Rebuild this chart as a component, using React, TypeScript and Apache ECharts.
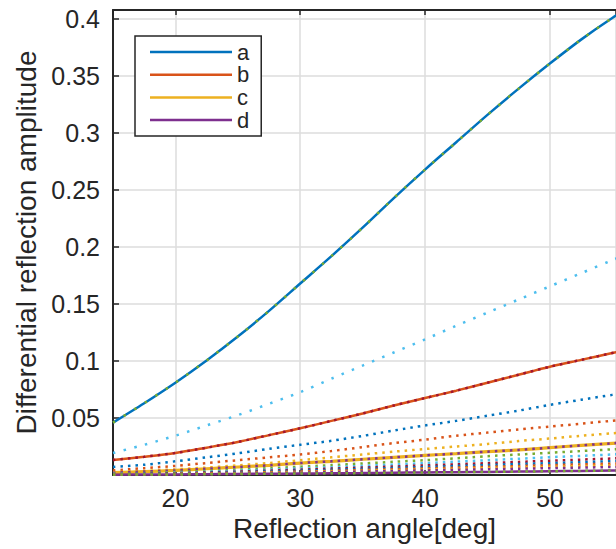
import React, { useEffect, useRef } from "react";
import * as echarts from "echarts";

// Reflection angle samples [deg]
const angles = [15, 17.5, 20, 22.5, 25, 27.5, 30, 32.5, 35, 37.5, 40, 42.5, 45, 47.5, 50, 52.5, 55, 57.5];

// Solid curves (legend entries)
const curveA = [0.046, 0.063, 0.081, 0.1005, 0.1215, 0.144, 0.168, 0.192, 0.217, 0.243, 0.268, 0.292, 0.316, 0.339, 0.361, 0.382, 0.401, 0.418];
const curveB = [0.0132, 0.016, 0.0193, 0.024, 0.029, 0.035, 0.041, 0.0475, 0.054, 0.061, 0.0675, 0.074, 0.081, 0.088, 0.095, 0.101, 0.107, 0.113];
const curveC = [0.002, 0.003, 0.004, 0.0055, 0.007, 0.0085, 0.0105, 0.012, 0.0138, 0.0155, 0.0172, 0.0188, 0.0205, 0.022, 0.024, 0.026, 0.0278, 0.0295];
const curveD = [0.0003, 0.0004, 0.0005, 0.0007, 0.0009, 0.0011, 0.0013, 0.0015, 0.0017, 0.002, 0.0022, 0.0025, 0.0027, 0.003, 0.0033, 0.0036, 0.0039, 0.0042];

// Dotted family of curves (order n = 1, 2, 3, ...)
const dotN1 = curveA;
const dotN2 = [0.0193, 0.0265, 0.0345, 0.0435, 0.0525, 0.0625, 0.0727, 0.0845, 0.096, 0.1075, 0.119, 0.131, 0.1425, 0.154, 0.1655, 0.177, 0.1885, 0.199];
const dotN3 = curveB;
const dotN4 = [0.007, 0.009, 0.012, 0.0155, 0.019, 0.023, 0.0265, 0.03, 0.0343, 0.039, 0.0435, 0.0475, 0.052, 0.0565, 0.0615, 0.066, 0.0703, 0.074];
const dotN5 = [0.004, 0.006, 0.008, 0.0105, 0.013, 0.0155, 0.018, 0.021, 0.0245, 0.028, 0.031, 0.0345, 0.0372, 0.04, 0.0425, 0.045, 0.0476, 0.05];
const dotN6 = [0.0025, 0.0035, 0.005, 0.0065, 0.0085, 0.0105, 0.013, 0.0155, 0.018, 0.0205, 0.0228, 0.025, 0.0272, 0.0298, 0.032, 0.0344, 0.0366, 0.039];
const dotN7 = curveC;
const dotN8 = [0.0012, 0.0018, 0.0026, 0.0036, 0.0047, 0.006, 0.0073, 0.0087, 0.0101, 0.0116, 0.013, 0.0147, 0.0165, 0.018, 0.0195, 0.021, 0.0225, 0.024];
const dotN9 = [0.001, 0.0015, 0.002, 0.0028, 0.0037, 0.0047, 0.0058, 0.0069, 0.008, 0.0092, 0.0104, 0.0117, 0.013, 0.0143, 0.0156, 0.0168, 0.018, 0.0192];
const dotN10 = [0.0008, 0.0012, 0.0016, 0.0022, 0.003, 0.0038, 0.0047, 0.0056, 0.0065, 0.0074, 0.0084, 0.0094, 0.0104, 0.0115, 0.0125, 0.0135, 0.0145, 0.0155];
const dotN11 = [0.0006, 0.0009, 0.0013, 0.0018, 0.0024, 0.0031, 0.0038, 0.0046, 0.0054, 0.0062, 0.007, 0.0079, 0.0087, 0.0096, 0.0104, 0.0113, 0.0121, 0.013];
const dotN12 = [0.0005, 0.0007, 0.001, 0.0014, 0.0019, 0.0025, 0.0031, 0.0037, 0.0044, 0.0051, 0.0058, 0.0065, 0.0072, 0.0079, 0.0086, 0.0093, 0.01, 0.0107];
const dotN13 = [0.0004, 0.0006, 0.0008, 0.0011, 0.0015, 0.002, 0.0025, 0.003, 0.0036, 0.0042, 0.0048, 0.0054, 0.006, 0.0066, 0.0072, 0.0078, 0.0084, 0.009];
const dotN14 = [0.0003, 0.0005, 0.0007, 0.0009, 0.0012, 0.0016, 0.002, 0.0025, 0.003, 0.0035, 0.004, 0.0045, 0.005, 0.0055, 0.006, 0.0065, 0.007, 0.0075];
const dotN15 = curveD;

const legendNames = ["a", "b", "c", "d"];
const xTitle = "Reflection angle[deg]";
const yTitle = "Differential reflection amplitude";

const FONT = "'Liberation Sans', Arial, Helvetica, sans-serif";
const INK = "#262626";
const PALETTE = ["#0072BD", "#D95319", "#EDB120", "#7E2F8E", "#77AC30", "#4DBEEE", "#A2142F"];

const pairs = (vals: number[]) => angles.map((x, i) => [x, vals[i]]);

export default function App() {
  const ref = useRef<HTMLDivElement>(null);

  useEffect(() => {
    if (!ref.current) return;
    const chart = echarts.init(ref.current, null, { renderer: "svg" });

    const solids = [curveA, curveB, curveC, curveD];
    const solidWidths = [2.5, 2.5, 3.2, 2.5];
    const dotted = [dotN1, dotN2, dotN3, dotN4, dotN5, dotN6, dotN7, dotN8, dotN9, dotN10, dotN11, dotN12, dotN13, dotN14, dotN15];

    const series: any[] = [];
    solids.forEach((vals, i) => {
      series.push({
        name: legendNames[i],
        type: "line",
        data: pairs(vals),
        smooth: 0.3,
        showSymbol: false,
        symbol: "none",
        color: PALETTE[i],
        lineStyle: { color: PALETTE[i], width: solidWidths[i] },
        z: 2,
        silent: true,
      });
    });
    dotted.forEach((vals, k) => {
      const color = PALETTE[(k + 4) % 7];
      const dash = k === 0 ? [2.5, 10] : k === 1 ? [2.5, 8.5] : [2.5, 5];
      series.push({
        name: "n" + (k + 1),
        type: "line",
        data: pairs(vals),
        smooth: 0.3,
        showSymbol: false,
        symbol: "none",
        color,
        lineStyle: { color, width: 2.5, type: dash, cap: "butt" },
        z: 3,
        silent: true,
      });
    });

    chart.setOption({
      animation: false,
      backgroundColor: "#ffffff",
      grid: { left: 113, right: 0, top: 10, bottom: 74, containLabel: false },
      legend: {
        data: legendNames,
        orient: "vertical",
        left: 135,
        top: 36,
        icon: "rect",
        itemWidth: 82,
        itemHeight: 2.5,
        itemGap: 0.7,
        padding: [5, 12, 5, 15],
        borderColor: INK,
        borderWidth: 1.5,
        borderRadius: 0,
        backgroundColor: "#ffffff",
        textStyle: { fontSize: 22, color: INK, fontFamily: FONT, lineHeight: 22 },
      },
      xAxis: [
        {
          type: "value",
          min: 15,
          max: 55.3,
          splitNumber: 4,
          position: "bottom",
          name: xTitle,
          nameLocation: "middle",
          nameGap: 37,
          nameTextStyle: { fontSize: 28, color: INK, fontFamily: FONT },
          axisLine: { show: true, lineStyle: { color: INK, width: 2 } },
          axisTick: { show: true, inside: true, length: 5, lineStyle: { color: INK, width: 1.5 } },
          axisLabel: { showMinLabel: false, showMaxLabel: false, fontSize: 25, color: INK, fontFamily: FONT, margin: 10 },
          splitLine: { show: true, lineStyle: { color: "#dcdcdc", width: 1.5 } },
        },
        {
          type: "value",
          min: 15,
          max: 55.3,
          splitNumber: 4,
          position: "top",
          axisLine: { show: true, lineStyle: { color: INK, width: 2 } },
          axisTick: { show: true, inside: true, length: 5, lineStyle: { color: INK, width: 1.5 } },
          axisLabel: { show: false },
          splitLine: { show: false },
        },
      ],
      yAxis: {
        type: "value",
        min: 0,
        max: 0.408,
        interval: 0.05,
        name: yTitle,
        nameLocation: "middle",
        nameGap: 70,
        nameTextStyle: { fontSize: 28, color: INK, fontFamily: FONT },
        axisLine: { show: true, lineStyle: { color: INK, width: 2 } },
        axisTick: { show: true, inside: true, length: 6, lineStyle: { color: INK, width: 1.5 } },
        axisLabel: {
          showMinLabel: false,
          showMaxLabel: false,
          fontSize: 25,
          color: INK,
          fontFamily: FONT,
          margin: 13,
          formatter: (v: number) => String(Math.round(v * 100) / 100),
        },
        splitLine: { show: true, lineStyle: { color: "#dcdcdc", width: 1.5 } },
      },
      series,
    });

    return () => chart.dispose();
  }, []);

  return (
    <div
      ref={ref}
      style={{ position: "fixed", left: 0, top: 0, width: 616, height: 549, background: "#fff" }}
    />
  );
}
